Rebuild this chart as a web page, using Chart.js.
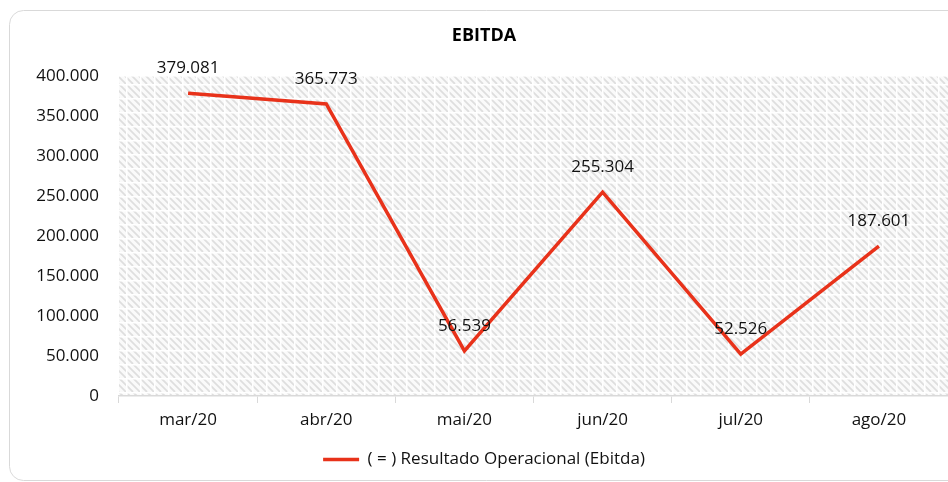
<!DOCTYPE html>
<html>
<head>
<meta charset="utf-8">
<script src="https://cdn.jsdelivr.net/npm/chart.js@4"></script>
<style>
  html, body { margin: 0; padding: 0; background: #fff; }
  #wrap { width: 948px; height: 482px; }
</style>
</head>
<body>
<div id="wrap"><canvas id="ebitdaChart" width="948" height="482"></canvas></div>
<script>
var meses = ['mar/20', 'abr/20', 'mai/20', 'jun/20', 'jul/20', 'ago/20'];
var ebitda = [379081, 365773, 56539, 255304, 52526, 187601];
var serieNome = '( = ) Resultado Operacional (Ebitda)';
var titulo = 'EBITDA';

var fonte = "'Open Sans', 'Noto Sans', sans-serif";
var vermelho = 'rgb(232, 50, 26)';

function formata(v) {
    return String(v).replace(/\B(?=(\d{3})+(?!\d))/g, '.');
}

// padrao hachurado do fundo da area do grafico
function criaPadrao(ctx) {
    var c = document.createElement('canvas');
    c.width = 14; c.height = 14;
    var p = c.getContext('2d');
    p.fillStyle = '#fafafa';
    p.fillRect(0, 0, 14, 14);
    p.strokeStyle = '#dedede';
    p.lineWidth = 1.8;
    for (var k = -14; k <= 14; k += 7) {
        p.beginPath();
        p.moveTo(k, 0);
        p.lineTo(k + 14, 14);
        p.stroke();
    }
    p.fillStyle = '#ffffff';
    p.fillRect(0, 0, 14, 1.5);
    p.fillRect(0, 0, 1.5, 14);
    return ctx.createPattern(c, 'repeat');
}

var moldura = {
    id: 'moldura',
    beforeDraw: function (chart) {
        var ctx = chart.ctx;
        ctx.save();
        ctx.strokeStyle = '#d9d9d9';
        ctx.lineWidth = 1;
        ctx.beginPath();
        ctx.roundRect(9.5, 10.5, 960, 470, 14);
        ctx.stroke();
        var a = chart.chartArea;
        ctx.fillStyle = criaPadrao(ctx);
        ctx.fillRect(a.left, a.top, a.right - a.left, a.bottom - a.top);
        ctx.restore();
    }
};

var rotulos = {
    id: 'rotulos',
    afterDatasetsDraw: function (chart) {
        var ctx = chart.ctx;
        var meta = chart.getDatasetMeta(0);
        ctx.save();
        ctx.font = '17px ' + fonte;
        ctx.fillStyle = '#111';
        ctx.textAlign = 'center';
        ctx.textBaseline = 'middle';
        meta.data.forEach(function (pt, i) {
            ctx.fillText(formata(chart.data.datasets[0].data[i]), pt.x, pt.y - 25);
        });
        ctx.restore();
    }
};

var ctx = document.getElementById('ebitdaChart').getContext('2d');
var grafico = new Chart(ctx, {
    type: 'line',
    data: {
        labels: meses,
        datasets: [{
            label: serieNome,
            data: ebitda,
            borderColor: vermelho,
            backgroundColor: vermelho,
            borderWidth: 3.5,
            pointRadius: 0,
            pointStyle: 'line',
            tension: 0,
            fill: false
        }]
    },
    options: {
        responsive: false,
        animation: false,
        layout: { padding: { left: 20, right: 0, top: 10, bottom: 4 } },
        scales: {
            x: {
                offset: true,
                grid: {
                    display: true,
                    drawOnChartArea: false,
                    drawTicks: true,
                    tickLength: 7,
                    color: '#d9d9d9',
                    offset: true
                },
                border: { display: true, color: '#d9d9d9', width: 1.5 },
                ticks: { color: '#111', font: { family: fonte, size: 17 }, padding: 7 },
                afterFit: function (s) { s.height = 45; }
            },
            y: {
                min: 0,
                max: 400000,
                grid: { display: false, drawTicks: false },
                border: { display: false },
                ticks: {
                    stepSize: 50000,
                    color: '#111',
                    font: { family: fonte, size: 17 },
                    padding: 20,
                    callback: function (v) { return formata(v); }
                },
                afterFit: function (s) { s.width = 99; }
            }
        },
        plugins: {
            title: {
                display: true,
                text: titulo,
                color: '#000',
                font: { family: fonte, size: 18, weight: 'bold' },
                padding: { top: 15, bottom: 30 }
            },
            legend: {
                position: 'bottom',
                labels: {
                    color: '#111',
                    font: { family: fonte, size: 17 },
                    usePointStyle: true,
                    pointStyleWidth: 36,
                    boxHeight: 3,
                    padding: 10
                }
            },
            tooltip: { enabled: false }
        }
    },
    plugins: [moldura, rotulos]
});
</script>
</body>
</html>
